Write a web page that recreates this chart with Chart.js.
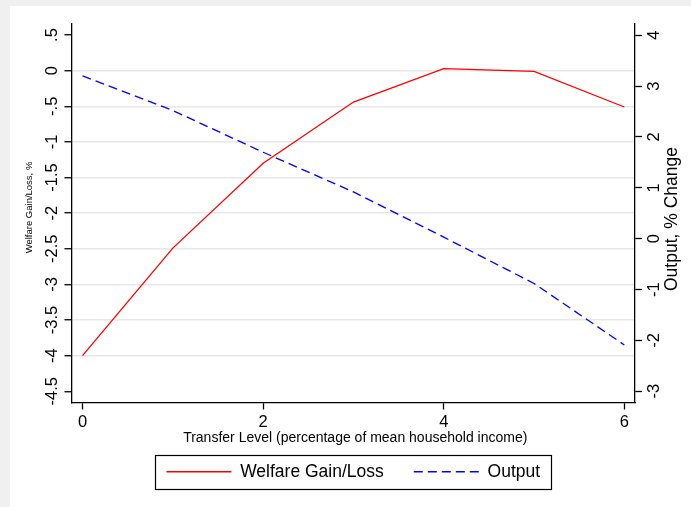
<!DOCTYPE html>
<html>
<head>
<meta charset="utf-8">
<script src="https://cdn.jsdelivr.net/npm/chart.js@4"></script>
<style>
  html, body { margin: 0; padding: 0; background: #fff; overflow: hidden; }
  #wrap { width: 691px; height: 507px; }
</style>
</head>
<body>
<div id="wrap"><canvas id="chart" width="691" height="507"></canvas></div>
<script>
  // Chart data
  const transferLevels = [0, 1, 2, 3, 4, 5, 6];
  const welfareGain = [-4.0, -2.49, -1.30, -0.44, 0.03, -0.01, -0.51];
  const outputChange = [3.2, 2.52, 1.70, 0.92, 0.03, -0.88, -2.09];

  // Tick labels
  const xTicks = [0, 2, 4, 6];
  const xTickLabels = ['0', '2', '4', '6'];
  const welfareTicks = [0.5, 0, -0.5, -1, -1.5, -2, -2.5, -3, -3.5, -4, -4.5];
  const welfareTickLabels = ['.5', '0', '-.5', '-1', '-1.5', '-2', '-2.5', '-3', '-3.5', '-4', '-4.5'];
  const welfareGrid = [0, -0.5, -1, -1.5, -2, -2.5, -3, -3.5, -4];
  const outputTicks = [4, 3, 2, 1, 0, -1, -2, -3];
  const outputTickLabels = ['4', '3', '2', '1', '0', '-1', '-2', '-3'];

  const FONT = '"Liberation Sans", Arial, sans-serif';
  Chart.defaults.font.family = FONT;
  Chart.defaults.color = '#000';

  function rotText(ctx, text, x, y) {
    ctx.save();
    ctx.translate(x, y);
    ctx.rotate(-Math.PI / 2);
    ctx.fillText(text, 0, 0);
    ctx.restore();
  }

  // Stata-like frame, rotated axis labels and legend border
  const stataText = {
    id: 'stataText',
    beforeDraw(chart) {
      const ctx = chart.ctx;
      ctx.save();
      ctx.fillStyle = '#f0f0f0';
      ctx.fillRect(0, 0, chart.width, chart.height);
      ctx.fillStyle = '#ffffff';
      ctx.fillRect(10, 6, chart.width + 10, chart.height + 10);
      ctx.restore();
    },
    afterDraw(chart) {
      const ctx = chart.ctx;
      const { y, y2 } = chart.scales;
      const area = chart.chartArea;
      ctx.save();
      ctx.fillStyle = '#000';
      ctx.textAlign = 'center';
      ctx.textBaseline = 'middle';

      ctx.font = '16.5px ' + FONT;
      welfareTicks.forEach((v, i) => rotText(ctx, welfareTickLabels[i], y.right - 19, y.getPixelForValue(v)));
      outputTicks.forEach((v, i) => rotText(ctx, outputTickLabels[i], y2.left + 19, y2.getPixelForValue(v)));

      ctx.font = '9.5px ' + FONT;
      rotText(ctx, 'Welfare Gain/Loss, %', 29, 207.5);

      ctx.font = '17.5px ' + FONT;
      rotText(ctx, 'Output, % Change', 672.5, 219);

      ctx.font = '14px ' + FONT;
      ctx.fillText('Transfer Level (percentage of mean household income)', (area.left + area.right) / 2 + 2, 438);

      // legend border
      const hb = chart.legend.legendHitBoxes;
      if (hb && hb.length) {
        const first = hb[0], last = hb[hb.length - 1];
        const left = first.left - 11;
        const right = last.left + last.width + 11;
        const top = first.top - 8;
        const bottom = first.top + first.height + 8.5;
        ctx.strokeStyle = '#000';
        ctx.lineWidth = 1.2;
        ctx.strokeRect(Math.round(left) + 0.5, Math.round(top) + 0.5, Math.round(right - left), Math.round(bottom - top));
      }
      ctx.restore();
    }
  };

  const ctx = document.getElementById('chart').getContext('2d');
  const chart = new Chart(ctx, {
    type: 'line',
    data: {
      datasets: [{
        label: 'Welfare Gain/Loss',
        data: transferLevels.map((t, i) => ({ x: t, y: welfareGain[i] })),
        borderColor: '#ff0000',
        backgroundColor: '#ff0000',
        borderWidth: 1.3,
        pointRadius: 0,
        tension: 0,
        yAxisID: 'y'
      }, {
        label: 'Output',
        data: transferLevels.map((t, i) => ({ x: t, y: outputChange[i] })),
        borderColor: '#0000ff',
        backgroundColor: '#0000ff',
        borderWidth: 1.3,
        borderDash: [9, 5],
        pointRadius: 0,
        tension: 0,
        yAxisID: 'y2'
      }]
    },
    options: {
      responsive: false,
      animation: false,
      devicePixelRatio: 1,
      layout: { padding: { top: 24, left: 0, right: 0, bottom: 16.5 } },
      plugins: {
        tooltip: { enabled: false },
        legend: {
          position: 'bottom',
          fullSize: false,
          labels: {
            usePointStyle: true,
            pointStyle: 'line',
            pointStyleWidth: 65,
            padding: 30,
            color: '#000',
            font: { size: 17.5 },
            // keep the dataset dash pattern in the legend sample
            generateLabels: chart => Chart.defaults.plugins.legend.labels.generateLabels(chart).map(item => {
              const ds = chart.data.datasets[item.datasetIndex];
              item.lineDash = ds.borderDash || [];
              item.lineWidth = ds.borderWidth;
              item.strokeStyle = ds.borderColor;
              return item;
            })
          }
        }
      },
      scales: {
        x: {
          type: 'linear',
          position: 'bottom',
          min: -0.122,
          max: 6.118,
          afterBuildTicks: s => { s.ticks = xTicks.map(v => ({ value: v })); },
          afterFit: s => { s.height = 30.5; },
          border: { display: true, color: '#000', width: 1.3 },
          grid: { drawOnChartArea: false, drawTicks: true, tickLength: 7, tickColor: '#000', tickWidth: 1.3 },
          ticks: {
            padding: 3,
            font: { size: 16.5 },
            color: '#000',
            maxRotation: 0,
            callback: (v, i) => xTickLabels[i]
          }
        },
        y: {
          type: 'linear',
          position: 'left',
          min: -4.657,
          max: 0.655,
          afterBuildTicks: s => { s.ticks = welfareTicks.map(v => ({ value: v })); },
          afterFit: s => { s.width = 71.5; },
          border: { display: true, color: '#000', width: 1.3 },
          grid: {
            drawOnChartArea: true,
            color: c => (c.tick && welfareGrid.includes(c.tick.value)) ? '#e8e8e8' : 'rgba(0,0,0,0)',
            lineWidth: 1.5,
            tickLength: 7,
            tickColor: '#000',
            tickWidth: 1.3
          },
          ticks: { display: false }
        },
        y2: {
          type: 'linear',
          position: 'right',
          min: -3.221,
          max: 4.221,
          afterBuildTicks: s => { s.ticks = outputTicks.map(v => ({ value: v })); },
          afterFit: s => { s.width = 56; },
          border: { display: true, color: '#000', width: 1.3 },
          grid: { drawOnChartArea: false, tickLength: 7, tickColor: '#000', tickWidth: 1.3 },
          ticks: { display: false }
        }
      }
    },
    plugins: [stataText]
  });
</script>
</body>
</html>
